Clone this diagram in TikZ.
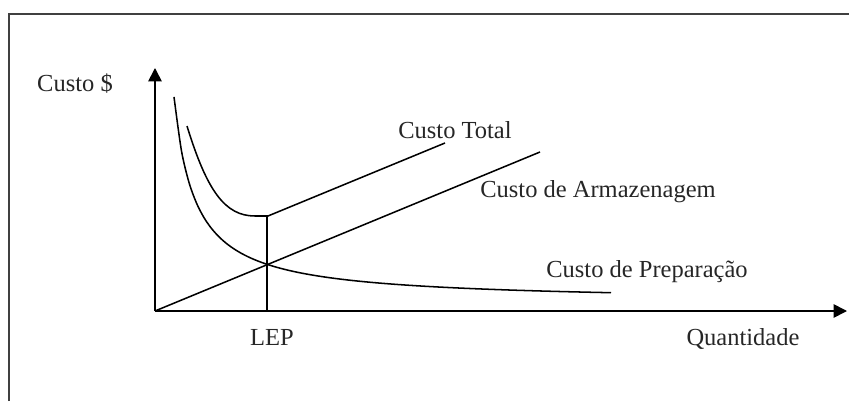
\documentclass[tikz,border=0pt]{standalone}
\usepackage{fontspec}
\setmainfont{Liberation Serif}
\usetikzlibrary{arrows.meta}

\begin{document}
\begin{tikzpicture}[x=0.49pt,y=0.49pt,
		eixo/.style={line width=0.8pt,-{Triangle[length=6.5pt,width=6.5pt]}},
		curva/.style={line width=0.75pt},
		rotulo/.style={anchor=base,font=\fontsize{12}{14}\selectfont,text=black!85}]
			\useasboundingbox (-155,-90) rectangle (694,311);
			\draw [line width=1pt,black!75](-146,-90)--(-146,297)--(694,297);
			\coordinate (O) at (0,0);
			\coordinate (ytop) at (0,243);
			\coordinate (xend) at (692,0);
			\draw [eixo](O)--(ytop);
			\draw [eixo](O)--(xend);
			\node [rotulo] (custo) at (-80,219) {Custo \$};
			\node [rotulo] (quant) at (588,-34) {Quantidade};
			% custo de armazenagem
			\coordinate (arm) at (385,159);
			\draw [curva](O)--(arm);
			\node [rotulo] (armtxt) at (443,114) {Custo de Armazenagem};
			% custo de preparacao
			\draw [curva] plot[smooth,domain=19:456,samples=60] (\x,{8.9+4308/(\x+2)});
			\node [rotulo] (preptxt) at (492,34) {Custo de Preparação};
			% custo total
			\coordinate (tmin) at (113,95);
			\coordinate (tend) at (290,168);
			\draw [curva](32,185) .. controls (52,120) and (70,95) .. (100,95) -- (tmin) -- (tend);
			\node [rotulo] (tottxt) at (300,173) {Custo Total};
			% lote economico
			\coordinate (lep) at (112,0);
			\draw [line width=0.6pt](lep)--(112,95);
			\node [rotulo] (leptxt) at (117,-34) {LEP};
		\end{tikzpicture}
\end{document}
